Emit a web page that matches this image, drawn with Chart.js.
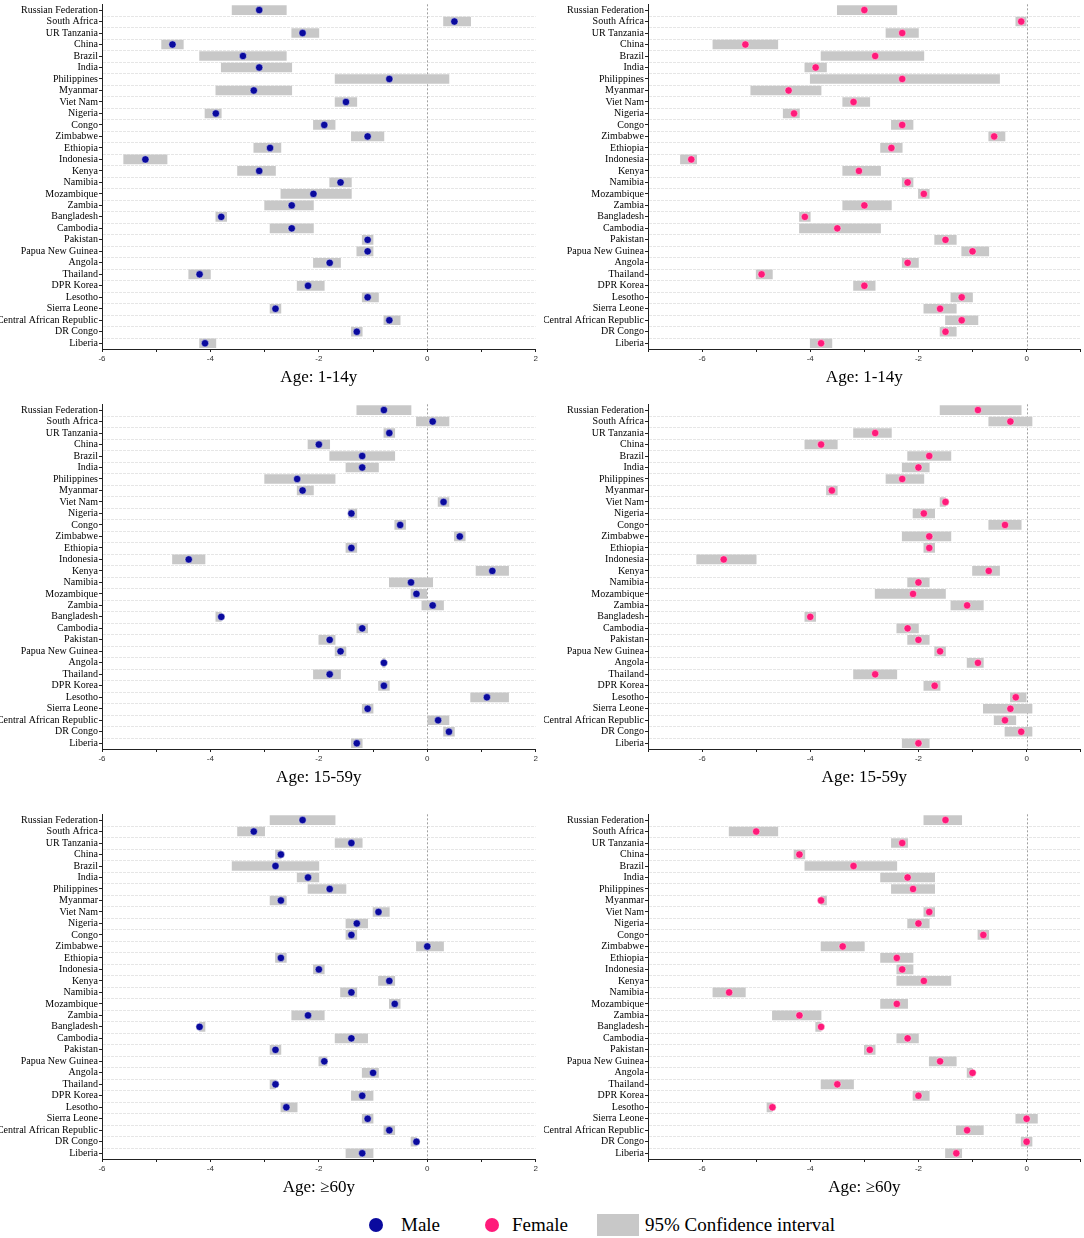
<!DOCTYPE html>
<html>
<head>
<meta charset="utf-8">
<script src="https://cdn.jsdelivr.net/npm/chart.js@4.4.0/dist/chart.umd.min.js"></script>
<style>
html,body{margin:0;padding:0;background:#fff;}
body{width:1084px;height:1238px;overflow:hidden;position:relative;font-family:'Liberation Serif','Times New Roman',serif;}
.panel{position:absolute;}
.dot{position:absolute;width:14px;height:14px;border-radius:50%;top:1218px;}
.lt{position:absolute;top:1214px;font-size:19px;line-height:22px;color:#000;white-space:nowrap;}
.box{position:absolute;left:597px;top:1214px;width:42px;height:22px;background:#c8c8c8;}
</style>
</head>
<body>
<canvas id="p1" class="panel" width="540" height="395" style="left:0;top:0;"></canvas>
<canvas id="p2" class="panel" width="541" height="395" style="left:544px;top:0;"></canvas>
<canvas id="p3" class="panel" width="540" height="395" style="left:0;top:400px;"></canvas>
<canvas id="p4" class="panel" width="541" height="395" style="left:544px;top:400px;"></canvas>
<canvas id="p5" class="panel" width="540" height="395" style="left:0;top:810px;"></canvas>
<canvas id="p6" class="panel" width="541" height="395" style="left:544px;top:810px;"></canvas>

<span class="dot" style="left:369px;background:#0a0a9e;"></span><span class="lt" style="left:401px;">Male</span>
<span class="dot" style="left:485px;background:#ff1a7a;"></span><span class="lt" style="left:512px;">Female</span>
<span class="box"></span><span class="lt" style="left:645px;">95% Confidence interval</span>

<script>
const countries = ["Russian Federation","South Africa","UR Tanzania","China","Brazil","India","Philippines","Myanmar","Viet Nam","Nigeria","Congo","Zimbabwe","Ethiopia","Indonesia","Kenya","Namibia","Mozambique","Zambia","Bangladesh","Cambodia","Pakistan","Papua New Guinea","Angola","Thailand","DPR Korea","Lesotho","Sierra Leone","Central African Republic","DR Congo","Liberia"];

// Male, age 1-14y
const male1_14    = [-3.1, 0.5,-2.3,-4.7,-3.4,-3.1,-0.7,-3.2,-1.5,-3.9,-1.9,-1.1,-2.9,-5.2,-3.1,-1.6,-2.1,-2.5,-3.8,-2.5,-1.1,-1.1,-1.8,-4.2,-2.2,-1.1,-2.8,-0.7,-1.3,-4.1];
const male1_14Lo  = [-3.6, 0.3,-2.5,-4.9,-4.2,-3.8,-1.7,-3.9,-1.7,-4.1,-2.1,-1.4,-3.2,-5.6,-3.5,-1.8,-2.7,-3.0,-3.9,-2.9,-1.2,-1.3,-2.1,-4.4,-2.4,-1.2,-2.9,-0.8,-1.4,-4.2];
const male1_14Hi  = [-2.6, 0.8,-2.0,-4.5,-2.6,-2.5, 0.4,-2.5,-1.3,-3.8,-1.7,-0.8,-2.7,-4.8,-2.8,-1.4,-1.4,-2.1,-3.7,-2.1,-1.0,-1.0,-1.6,-4.0,-1.9,-0.9,-2.7,-0.5,-1.2,-3.9];

// Female, age 1-14y
const female1_14   = [-3.0,-0.1,-2.3,-5.2,-2.8,-3.9,-2.3,-4.4,-3.2,-4.3,-2.3,-0.6,-2.5,-6.2,-3.1,-2.2,-1.9,-3.0,-4.1,-3.5,-1.5,-1.0,-2.2,-4.9,-3.0,-1.2,-1.6,-1.2,-1.5,-3.8];
const female1_14Lo = [-3.5,-0.2,-2.6,-5.8,-3.8,-4.1,-4.0,-5.1,-3.4,-4.5,-2.5,-0.7,-2.7,-6.4,-3.4,-2.3,-2.0,-3.4,-4.2,-4.2,-1.7,-1.2,-2.3,-5.0,-3.2,-1.4,-1.9,-1.5,-1.6,-4.0];
const female1_14Hi = [-2.4, 0.0,-2.0,-4.6,-1.9,-3.7,-0.5,-3.8,-2.9,-4.2,-2.1,-0.4,-2.3,-6.1,-2.7,-2.1,-1.8,-2.5,-4.0,-2.7,-1.3,-0.7,-2.0,-4.7,-2.8,-1.0,-1.3,-0.9,-1.3,-3.6];

// Male, age 15-59y
const male15_59   = [-0.8, 0.1,-0.7,-2.0,-1.2,-1.2,-2.4,-2.3, 0.3,-1.4,-0.5, 0.6,-1.4,-4.4, 1.2,-0.3,-0.2, 0.1,-3.8,-1.2,-1.8,-1.6,-0.8,-1.8,-0.8, 1.1,-1.1, 0.2, 0.4,-1.3];
const male15_59Lo = [-1.3,-0.2,-0.8,-2.2,-1.8,-1.5,-3.0,-2.4, 0.2,-1.45,-0.6, 0.5,-1.5,-4.7, 0.9,-0.7,-0.3,-0.1,-3.9,-1.3,-2.0,-1.7,-0.82,-2.1,-0.9, 0.8,-1.2, 0.0, 0.3,-1.4];
const male15_59Hi = [-0.3, 0.4,-0.6,-1.8,-0.6,-0.9,-1.7,-2.1, 0.4,-1.3,-0.4, 0.7,-1.3,-4.1, 1.5, 0.1, 0.0, 0.3,-3.8,-1.1,-1.7,-1.5,-0.78,-1.6,-0.7, 1.5,-1.0, 0.4, 0.5,-1.2];

// Female, age 15-59y
const female15_59   = [-0.9,-0.3,-2.8,-3.8,-1.8,-2.0,-2.3,-3.6,-1.5,-1.9,-0.4,-1.8,-1.8,-5.6,-0.7,-2.0,-2.1,-1.1,-4.0,-2.2,-2.0,-1.6,-0.9,-2.8,-1.7,-0.2,-0.3,-0.4,-0.1,-2.0];
const female15_59Lo = [-1.6,-0.7,-3.2,-4.1,-2.2,-2.3,-2.6,-3.7,-1.6,-2.1,-0.7,-2.3,-1.9,-6.1,-1.0,-2.2,-2.8,-1.4,-4.1,-2.4,-2.2,-1.7,-1.1,-3.2,-1.9,-0.3,-0.8,-0.6,-0.4,-2.3];
const female15_59Hi = [-0.1, 0.1,-2.5,-3.5,-1.4,-1.8,-1.9,-3.5,-1.5,-1.7,-0.1,-1.4,-1.7,-5.0,-0.5,-1.8,-1.5,-0.8,-3.9,-2.0,-1.8,-1.5,-0.8,-2.4,-1.6, 0.0, 0.1,-0.2, 0.1,-1.8];

// Male, age >=60y
const male60   = [-2.3,-3.2,-1.4,-2.7,-2.8,-2.2,-1.8,-2.7,-0.9,-1.3,-1.4, 0.0,-2.7,-2.0,-0.7,-1.4,-0.6,-2.2,-4.2,-1.4,-2.8,-1.9,-1.0,-2.8,-1.2,-2.6,-1.1,-0.7,-0.2,-1.2];
const male60Lo = [-2.9,-3.5,-1.7,-2.8,-3.6,-2.4,-2.2,-2.9,-1.0,-1.5,-1.5,-0.2,-2.8,-2.1,-0.9,-1.6,-0.7,-2.5,-4.2,-1.7,-2.9,-2.0,-1.2,-2.9,-1.4,-2.7,-1.2,-0.8,-0.3,-1.5];
const male60Hi = [-1.7,-3.0,-1.2,-2.7,-2.0,-2.0,-1.5,-2.6,-0.7,-1.1,-1.3, 0.3,-2.6,-1.9,-0.6,-1.3,-0.5,-1.9,-4.1,-1.1,-2.7,-1.85,-0.9,-2.8,-1.0,-2.4,-1.0,-0.6,-0.2,-1.0];

// Female, age >=60y
const female60   = [-1.5,-5.0,-2.3,-4.2,-3.2,-2.2,-2.1,-3.8,-1.8,-2.0,-0.8,-3.4,-2.4,-2.3,-1.9,-5.5,-2.4,-4.2,-3.8,-2.2,-2.9,-1.6,-1.0,-3.5,-2.0,-4.7, 0.0,-1.1, 0.0,-1.3];
const female60Lo = [-1.9,-5.5,-2.5,-4.3,-4.1,-2.7,-2.5,-3.8,-1.9,-2.2,-0.9,-3.8,-2.7,-2.4,-2.4,-5.8,-2.7,-4.7,-3.9,-2.4,-3.0,-1.8,-1.1,-3.8,-2.1,-4.8,-0.2,-1.3,-0.1,-1.5];
const female60Hi = [-1.2,-4.6,-2.2,-4.1,-2.4,-1.7,-1.7,-3.7,-1.7,-1.8,-0.7,-3.0,-2.1,-2.1,-1.4,-5.2,-2.2,-3.8,-3.8,-2.0,-2.8,-1.3,-1.0,-3.2,-1.8,-4.7, 0.2,-0.8, 0.1,-1.2];

const maleColor = '#0a0a9e';
const femaleColor = '#ff1a7a';
const ciColor = '#c8c8c8';

const refLines = {
  id: 'refLines',
  beforeDatasetsDraw(chart) {
    const {ctx, chartArea: a, scales: {x, y}} = chart;
    ctx.save();
    ctx.lineWidth = 1;
    ctx.strokeStyle = '#e6e6e6';
    ctx.setLineDash([3, 1]);
    for (let i = 1; i < countries.length; i++) {
      const yy = Math.round((y.getPixelForValue(i - 1) + y.getPixelForValue(i)) / 2) + 0.5;
      ctx.beginPath(); ctx.moveTo(a.left + 1, yy); ctx.lineTo(a.right, yy); ctx.stroke();
    }
    const zx = Math.round(x.getPixelForValue(0)) + 0.5;
    ctx.strokeStyle = '#a0a0a0';
    ctx.setLineDash([2, 2]);
    ctx.beginPath(); ctx.moveTo(zx, a.top); ctx.lineTo(zx, a.bottom); ctx.stroke();
    ctx.restore();
  }
};

function makePanel(id, left, pts, lo, hi, color, title) {
  new Chart(document.getElementById(id), {
    type: 'bar',
    data: {
      labels: countries,
      datasets: [
        { type: 'line', indexAxis: 'y', data: pts, showLine: false,
          pointRadius: 3.7, pointHoverRadius: 3.7, pointBackgroundColor: color,
          pointBorderColor: 'rgba(255,255,255,0.8)', pointBorderWidth: 0.6, order: 0 },
        { type: 'bar', data: lo.map((v, i) => [v, hi[i]]), backgroundColor: ciColor,
          borderWidth: 0, barThickness: 9, order: 1 }
      ]
    },
    options: {
      indexAxis: 'y',
      responsive: false,
      animation: false,
      devicePixelRatio: 1,
      layout: { padding: { top: 2, right: left ? 2 : 0, left: 0, bottom: 0 } },
      plugins: { legend: { display: false }, tooltip: { enabled: false } },
      scales: {
        x: {
          type: 'linear', min: left ? -6 : -7, max: left ? 2 : 1,
          afterFit(s) { s.height = 46; s.paddingLeft = 0; s.paddingRight = 0; },
          border: { display: true, color: '#222', width: 1 },
          grid: { display: true, drawOnChartArea: false, drawTicks: true, tickLength: 3, tickColor: '#222' },
          ticks: { stepSize: 1, autoSkip: false, maxRotation: 0, padding: 2, color: '#333',
                   font: { family: "'Liberation Sans', Arial, sans-serif", size: 8 },
                   callback: v => (v % 2 === 0 ? String(v) : '') },
          title: { display: true, text: title, color: '#000',
                   font: { family: "'Liberation Serif', 'Times New Roman', serif", size: 17 },
                   padding: { top: 0, bottom: 7 } }
        },
        y: {
          type: 'category', offset: true,
          afterFit(s) { s.width = left ? 102 : 104; s.paddingTop = 0; s.paddingBottom = 0; },
          border: { display: true, color: '#222', width: 1 },
          grid: { display: true, offset: false, drawOnChartArea: false, drawTicks: true, tickLength: 3, tickColor: '#222' },
          ticks: { autoSkip: false, padding: 1, color: '#000',
                   font: { family: "'Liberation Serif', 'Times New Roman', serif", size: 10 } }
        }
      }
    },
    plugins: [refLines]
  });
}

makePanel('p1', true,  male1_14,    male1_14Lo,    male1_14Hi,    maleColor,   'Age: 1-14y');
makePanel('p2', false, female1_14,  female1_14Lo,  female1_14Hi,  femaleColor, 'Age: 1-14y');
makePanel('p3', true,  male15_59,   male15_59Lo,   male15_59Hi,   maleColor,   'Age: 15-59y');
makePanel('p4', false, female15_59, female15_59Lo, female15_59Hi, femaleColor, 'Age: 15-59y');
makePanel('p5', true,  male60,      male60Lo,      male60Hi,      maleColor,   'Age: \u226560y');
makePanel('p6', false, female60,    female60Lo,    female60Hi,    femaleColor, 'Age: \u226560y');
</script>
</body>
</html>
